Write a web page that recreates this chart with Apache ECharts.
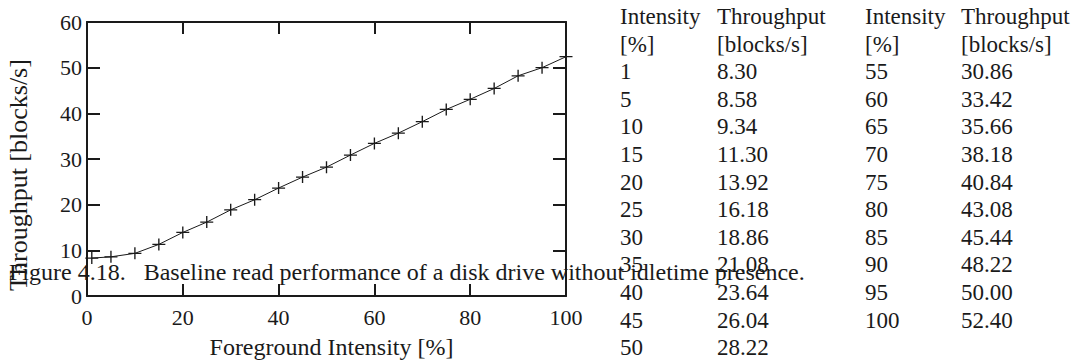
<!DOCTYPE html>
<html>
<head>
    <meta charset="utf-8">
    <title>Baseline read performance</title>
    <script src="https://cdn.jsdelivr.net/npm/echarts@6/dist/echarts.min.js"></script>
    <style>
        html, body { margin: 0; padding: 0; background: #fff; }
        #main { width: 1079px; height: 364px; }
    </style>
</head>
<body>
<div id="main"></div>
<script type="text/javascript">
    var intensity = [1, 5, 10, 15, 20, 25, 30, 35, 40, 45, 50, 55, 60, 65, 70, 75, 80, 85, 90, 95, 100];
    var throughput = [8.30, 8.58, 9.34, 11.30, 13.92, 16.18, 18.86, 21.08, 23.64, 26.04, 28.22,
        30.86, 33.42, 35.66, 38.18, 40.84, 43.08, 45.44, 48.22, 50.00, 52.40];
    var xTicks = [0, 20, 40, 60, 80, 100];
    var yTicks = [0, 10, 20, 30, 40, 50, 60];
    var tableHead = [['Intensity', '[%]'], ['Throughput', '[blocks/s]']];
    var caption = 'Figure 4.18.\u00a0\u00a0\u00a0Baseline read performance of a disk drive without idletime presence.';

    var font = "'Liberation Serif', 'Times New Roman', serif";
    var ink = '#1a1a1a';

    var points = intensity.map(function (x, i) { return [x, throughput[i]]; });

    // table text, built from the arrays above
    var colX = [620, 717, 865, 961];
    var rowY0 = 17, rowStep = 27.6;
    var texts = [];
    function cell(x, row, str) {
        texts.push({
            type: 'text', left: x, top: rowY0 + row * rowStep - 12, z: 10,
            style: { text: str, fontFamily: font, fontSize: 23, fill: ink }
        });
    }
    for (var b = 0; b < 2; b++) {
        cell(colX[b * 2], 0, tableHead[0][0]);
        cell(colX[b * 2], 1, tableHead[0][1]);
        cell(colX[b * 2 + 1], 0, tableHead[1][0]);
        cell(colX[b * 2 + 1], 1, tableHead[1][1]);
    }
    intensity.forEach(function (v, i) {
        var block = i < 11 ? 0 : 1;
        var row = block === 0 ? i + 2 : i - 11 + 2;
        cell(colX[block * 2], row, String(v));
        cell(colX[block * 2 + 1], row, throughput[i].toFixed(2));
    });
    texts.push({
        type: 'text', left: 9, top: 273 - 13, z: 10,
        style: { text: caption, fontFamily: font, fontSize: 24, fill: ink }
    });

    var myChart = echarts.init(document.getElementById('main'), null, { renderer: 'svg' });

    var frameLine = { onZero: false, show: true, lineStyle: { color: ink, width: 2 } };
    var option = {
        animation: false,
        textStyle: { fontFamily: font },
        grid: { left: 87, right: 513, top: 22, bottom: 56 },
        xAxis: [
            {
                type: 'value', min: xTicks[0], max: xTicks[xTicks.length - 1], interval: 20,
                name: 'Foreground Intensity [%]', nameLocation: 'middle', nameGap: 39,
                nameTextStyle: { fontFamily: font, fontSize: 24, color: ink, padding: [0, 0, 0, 10] },
                axisLine: frameLine,
                axisTick: { show: true, inside: true, length: 12, lineStyle: { color: ink, width: 2 } },
                axisLabel: { fontFamily: font, fontSize: 22, color: ink, margin: 10 },
                splitLine: { show: false }
            },
            {
                type: 'value', position: 'top', min: 0, max: 100, interval: 20,
                axisLine: frameLine,
                axisTick: { show: true, inside: true, length: 12, lineStyle: { color: ink, width: 2 } },
                axisLabel: { show: false },
                splitLine: { show: false }
            }
        ],
        yAxis: [
            {
                type: 'value', min: yTicks[0], max: yTicks[yTicks.length - 1], interval: 10,
                name: 'Throughput [blocks/s]', nameLocation: 'middle', nameGap: 56,
                nameTextStyle: { fontFamily: font, fontSize: 26, color: ink, padding: [0, 32, 0, 0] },
                axisLine: frameLine,
                axisTick: { show: true, inside: true, length: 13, lineStyle: { color: ink, width: 2 } },
                axisLabel: { fontFamily: font, fontSize: 22, color: ink, margin: 5 },
                splitLine: { show: false }
            },
            {
                type: 'value', position: 'right', min: 0, max: 60, interval: 10,
                axisLine: frameLine,
                axisTick: { show: true, inside: true, length: 13, lineStyle: { color: ink, width: 2 } },
                axisLabel: { show: false },
                splitLine: { show: false }
            }
        ],
        series: [
            {
                type: 'line',
                data: points,
                symbol: 'path://M0,5 L12,5 M6,0 L6,10',
                symbolSize: [13, 12],
                showSymbol: true,
                itemStyle: { color: 'none', borderColor: ink, borderWidth: 1.3 },
                lineStyle: { color: ink, width: 1 }
            }
        ],
        graphic: texts
    };
    myChart.setOption(option);
</script>
</body>
</html>
